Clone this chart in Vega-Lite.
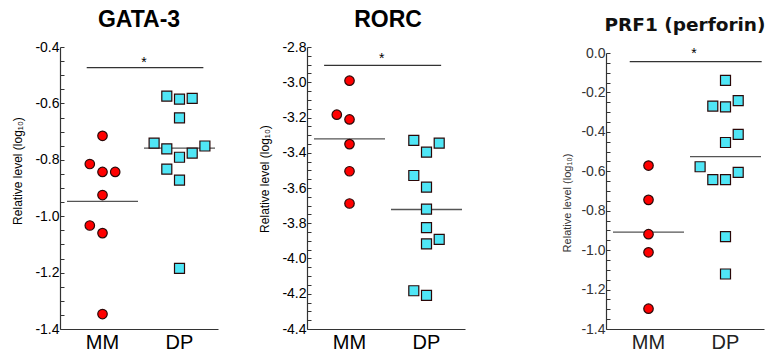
{
  "$schema": "https://vega.github.io/schema/vega-lite/v6.json",
  "background": "white",
  "padding": {"left": 11, "top": 9, "right": 5, "bottom": 5},
  "bounds": "flush",
  "spacing": 89,
  "config": {
    "view": {"stroke": null},
    "font": "Liberation Sans",
    "axisY": {
      "grid": false, "tickSize": -4, "tickColor": "#333", "tickWidth": 1, "domainColor": "#333", "domainWidth": 1.2, "tickCount": 100,
      "labelFontSize": 14, "labelColor": "#000", "labelPadding": 5, "labelFont": "Liberation Sans", "labelOverlap": false, "labelBound": false,
      "titleFontSize": 12, "titleFontWeight": "normal", "titleColor": "#000", "titleFont": "Liberation Sans",
      "titleX": -39, "titleBaseline": "alphabetic"
    },
    "axisX": {
      "grid": false, "ticks": false, "domainColor": "#333", "domainWidth": 1.2, "labelAngle": 0,
      "labelFontSize": 20, "labelColor": "#000", "labelPadding": 3, "title": null, "labelFont": "Liberation Sans"
    }
  },
  "datasets": {
    "gata": [
      {"group": "MM", "col": 0, "value": -0.715},
      {"group": "MM", "col": -1, "value": -0.815},
      {"group": "MM", "col": 0, "value": -0.843},
      {"group": "MM", "col": 1, "value": -0.843},
      {"group": "MM", "col": 0, "value": -0.925},
      {"group": "MM", "col": -1, "value": -1.033},
      {"group": "MM", "col": 0, "value": -1.06},
      {"group": "MM", "col": 0, "value": -1.347},
      {"group": "DP", "col": -1, "value": -0.574},
      {"group": "DP", "col": 0, "value": -0.585},
      {"group": "DP", "col": 1, "value": -0.582},
      {"group": "DP", "col": 0, "value": -0.651},
      {"group": "DP", "col": -2, "value": -0.741},
      {"group": "DP", "col": -1, "value": -0.761},
      {"group": "DP", "col": 0, "value": -0.791},
      {"group": "DP", "col": 1, "value": -0.776},
      {"group": "DP", "col": 2, "value": -0.751},
      {"group": "DP", "col": -1, "value": -0.833},
      {"group": "DP", "col": 0, "value": -0.872},
      {"group": "DP", "col": 0, "value": -1.185}
    ],
    "rorc": [
      {"group": "MM", "col": 0, "value": -2.991},
      {"group": "MM", "col": -1, "value": -3.184},
      {"group": "MM", "col": 0, "value": -3.211},
      {"group": "MM", "col": 0, "value": -3.351},
      {"group": "MM", "col": 0, "value": -3.505},
      {"group": "MM", "col": 0, "value": -3.688},
      {"group": "DP", "col": -1, "value": -3.33},
      {"group": "DP", "col": 1, "value": -3.345},
      {"group": "DP", "col": 0, "value": -3.397},
      {"group": "DP", "col": -1, "value": -3.529},
      {"group": "DP", "col": 0, "value": -3.595},
      {"group": "DP", "col": 0, "value": -3.72},
      {"group": "DP", "col": 0, "value": -3.825},
      {"group": "DP", "col": 1, "value": -3.891},
      {"group": "DP", "col": 0, "value": -3.917},
      {"group": "DP", "col": -1, "value": -4.183},
      {"group": "DP", "col": 0, "value": -4.209}
    ],
    "prf": [
      {"group": "MM", "col": 0, "value": -0.571},
      {"group": "MM", "col": 0, "value": -0.745},
      {"group": "MM", "col": 0, "value": -0.919},
      {"group": "MM", "col": 0, "value": -1.011},
      {"group": "MM", "col": 0, "value": -1.297},
      {"group": "DP", "col": 0, "value": -0.139},
      {"group": "DP", "col": -1, "value": -0.269},
      {"group": "DP", "col": 0, "value": -0.273},
      {"group": "DP", "col": 1, "value": -0.242},
      {"group": "DP", "col": 1, "value": -0.413},
      {"group": "DP", "col": 0, "value": -0.454},
      {"group": "DP", "col": -2, "value": -0.577},
      {"group": "DP", "col": -1, "value": -0.642},
      {"group": "DP", "col": 0, "value": -0.642},
      {"group": "DP", "col": 1, "value": -0.606},
      {"group": "DP", "col": 0, "value": -0.931},
      {"group": "DP", "col": 0, "value": -1.121}
    ],
    "sig": [
      {"panel": "gata", "from": "MM", "to": "DP", "level": -0.473, "label": "*"},
      {"panel": "rorc", "from": "MM", "to": "DP", "level": -2.904, "label": "*"},
      {"panel": "prf", "from": "MM", "to": "DP", "level": -0.044, "label": "*"}
    ]
  },
  "hconcat": [
    {
      "width": 158, "height": 282,
      "title": {"text": "GATA-3", "fontSize": 23, "font": "Liberation Sans", "fontWeight": "bold", "color": "#000", "baseline": "alphabetic", "offset": -10, "frame": "group"},
      "layer": [
        {
          "data": {"name": "gata"},
          "mark": {"type": "tick", "size": 71, "thickness": 1.3, "color": "#555"},
          "encoding": {
            "x": {"field": "group", "type": "nominal", "scale": {"type": "band", "domain": ["MM", "DP"], "paddingInner": 0, "paddingOuter": 0.026, "align": 1}},
            "y": {"aggregate": "mean", "field": "value", "type": "quantitative", "title": "Relative level (log₁₀)",
              "scale": {"domain": [-1.4, -0.4], "nice": false, "zero": false},
              "axis": {"titleY": 123.5, "labelOverlap": false, "tickCount": 100,
                "values": [-1.4, -1.35, -1.3, -1.25, -1.2, -1.15, -1.1, -1.05, -1.0, -0.95, -0.9, -0.85, -0.8, -0.75, -0.7, -0.65, -0.6, -0.55, -0.5, -0.45, -0.4],
                "labelExpr": "abs(datum.value*5 - round(datum.value*5)) < 0.0001 ? replace(format(datum.value, '.1f'), '\u2212', '-') : ''"}}
          }
        },
        {
          "data": {"name": "gata"},
          "mark": {"type": "point", "filled": true, "opacity": 1, "stroke": "#2a0808", "strokeWidth": 1.2},
          "encoding": {
            "x": {"field": "group", "type": "nominal"},
            "xOffset": {"field": "col", "type": "ordinal", "scale": {"type": "point", "domain": [-2, -1, 0, 1, 2], "range": [13.1, 63.9], "padding": 0}},
            "y": {"field": "value", "type": "quantitative", "title": "Relative level (log₁₀)"},
            "color": {"field": "group", "type": "nominal", "scale": {"domain": ["MM", "DP"], "range": ["#ff0000", "#50e6f6"]}, "legend": null},
            "shape": {"field": "group", "type": "nominal", "scale": {"domain": ["MM", "DP"], "range": ["circle", "square"]}, "legend": null},
            "size": {"field": "group", "type": "ordinal", "scale": {"domain": ["MM", "DP"], "range": [90, 100]}, "legend": null}
          }
        },
        {
          "data": {"name": "sig"},
          "transform": [{"filter": "datum.panel == 'gata'"}],
          "mark": {"type": "rule", "color": "#333", "strokeWidth": 1.2},
          "encoding": {
            "x": {"field": "from", "type": "nominal", "bandPosition": 0.295},
            "x2": {"field": "to", "bandPosition": 0.81},
            "y": {"field": "level", "type": "quantitative", "title": "Relative level (log₁₀)"}
          }
        },
        {
          "data": {"name": "sig"},
          "transform": [{"filter": "datum.panel == 'gata'"}],
          "mark": {"type": "text", "fontSize": 14, "baseline": "alphabetic", "dy": -1, "color": "#000"},
          "encoding": {
            "x": {"field": "to", "type": "nominal", "bandPosition": 0.04},
            "y": {"field": "level", "type": "quantitative", "title": "Relative level (log₁₀)"},
            "text": {"field": "label"}
          }
        }
      ]
    },
    {
      "width": 210, "height": 282,
      "title": {"text": "RORC", "fontSize": 23, "font": "Liberation Sans", "fontWeight": "bold", "color": "#000", "baseline": "alphabetic", "offset": -10, "frame": "group", "dx": -24},
      "layer": [
        {
          "data": {"name": "rorc"},
          "mark": {"type": "tick", "size": 71, "thickness": 1.3, "color": "#555"},
          "encoding": {
            "x": {"field": "group", "type": "nominal", "scale": {"type": "band", "domain": ["MM", "DP"], "range": [0, 158], "paddingInner": 0, "paddingOuter": 0.026, "align": 1}},
            "y": {"aggregate": "mean", "field": "value", "type": "quantitative", "title": "Relative level (log₁₀)",
              "scale": {"domain": [-4.4, -2.8], "nice": false, "zero": false},
              "axis": {"titleY": 131.5, "labelOverlap": false, "tickCount": 100,
                "values": [-4.4, -4.35, -4.3, -4.25, -4.2, -4.15, -4.1, -4.05, -4.0, -3.95, -3.9, -3.85, -3.8, -3.75, -3.7, -3.65, -3.6, -3.55, -3.5, -3.45, -3.4, -3.35, -3.3, -3.25, -3.2, -3.15, -3.1, -3.05, -3.0, -2.95, -2.9, -2.85, -2.8],
                "labelExpr": "abs(datum.value*5 - round(datum.value*5)) < 0.0001 ? replace(format(datum.value, '.1f'), '\u2212', '-') : ''"}}
          }
        },
        {
          "data": {"name": "rorc"},
          "mark": {"type": "point", "filled": true, "opacity": 1, "stroke": "#2a0808", "strokeWidth": 1.2},
          "encoding": {
            "x": {"field": "group", "type": "nominal"},
            "xOffset": {"field": "col", "type": "ordinal", "scale": {"type": "point", "domain": [-2, -1, 0, 1, 2], "range": [13.1, 63.9], "padding": 0}},
            "y": {"field": "value", "type": "quantitative", "title": "Relative level (log₁₀)"},
            "color": {"field": "group", "type": "nominal", "scale": {"domain": ["MM", "DP"], "range": ["#ff0000", "#50e6f6"]}, "legend": null},
            "shape": {"field": "group", "type": "nominal", "scale": {"domain": ["MM", "DP"], "range": ["circle", "square"]}, "legend": null},
            "size": {"field": "group", "type": "ordinal", "scale": {"domain": ["MM", "DP"], "range": [90, 100]}, "legend": null}
          }
        },
        {
          "data": {"name": "sig"},
          "transform": [{"filter": "datum.panel == 'rorc'"}],
          "mark": {"type": "rule", "color": "#333", "strokeWidth": 1.2},
          "encoding": {
            "x": {"field": "from", "type": "nominal", "bandPosition": 0.17},
            "x2": {"field": "to", "bandPosition": 0.69},
            "y": {"field": "level", "type": "quantitative", "title": "Relative level (log₁₀)"}
          }
        },
        {
          "data": {"name": "sig"},
          "transform": [{"filter": "datum.panel == 'rorc'"}],
          "mark": {"type": "text", "fontSize": 14, "baseline": "alphabetic", "dy": -2, "color": "#000"},
          "encoding": {
            "x": {"field": "from", "type": "nominal", "bandPosition": 0.92},
            "y": {"field": "level", "type": "quantitative", "title": "Relative level (log₁₀)"},
            "text": {"field": "label"}
          }
        }
      ]
    },
    {
      "width": 158, "height": 282,
      "title": {"text": "PRF1 (perforin)", "fontSize": 18.5, "font": "DejaVu Sans", "fontWeight": "bold", "color": "#111", "baseline": "alphabetic", "offset": -3, "frame": "group"},
      "layer": [
        {
          "data": {"name": "prf"},
          "mark": {"type": "tick", "size": 71, "thickness": 1.3, "color": "#555"},
          "encoding": {
            "x": {"field": "group", "type": "nominal", "scale": {"type": "band", "domain": ["MM", "DP"], "paddingInner": 0, "paddingOuter": 0.026, "align": 1}, "axis": {"labelColor": "#222"}},
            "y": {"aggregate": "mean", "field": "value", "type": "quantitative", "title": "Relative level (log₁₀)",
              "scale": {"domain": [-1.4, 0], "nice": false, "zero": false, "range": [282, 6]},
              "axis": {"titleY": 155.5, "titleX": -36, "labelColor": "#333", "titleColor": "#333", "titleFontSize": 11, "labelOverlap": false, "tickCount": 100,
                "values": [-1.4, -1.35, -1.3, -1.25, -1.2, -1.15, -1.1, -1.05, -1.0, -0.95, -0.9, -0.85, -0.8, -0.75, -0.7, -0.65, -0.6, -0.55, -0.5, -0.45, -0.4, -0.35, -0.3, -0.25, -0.2, -0.15, -0.1, -0.05, 0],
                "labelExpr": "abs(datum.value*5 - round(datum.value*5)) < 0.0001 ? replace(format(datum.value, '.1f'), '\u2212', '-') : ''"}}
          }
        },
        {
          "data": {"name": "prf"},
          "mark": {"type": "point", "filled": true, "opacity": 1, "stroke": "#2a0808", "strokeWidth": 1.2},
          "encoding": {
            "x": {"field": "group", "type": "nominal"},
            "xOffset": {"field": "col", "type": "ordinal", "scale": {"type": "point", "domain": [-2, -1, 0, 1, 2], "range": [13.1, 63.9], "padding": 0}},
            "y": {"field": "value", "type": "quantitative", "title": "Relative level (log₁₀)"},
            "color": {"field": "group", "type": "nominal", "scale": {"domain": ["MM", "DP"], "range": ["#ff0000", "#50e6f6"]}, "legend": null},
            "shape": {"field": "group", "type": "nominal", "scale": {"domain": ["MM", "DP"], "range": ["circle", "square"]}, "legend": null},
            "size": {"field": "group", "type": "ordinal", "scale": {"domain": ["MM", "DP"], "range": [90, 100]}, "legend": null}
          }
        },
        {
          "data": {"name": "sig"},
          "transform": [{"filter": "datum.panel == 'prf'"}],
          "mark": {"type": "rule", "color": "#333", "strokeWidth": 1.2},
          "encoding": {
            "x": {"field": "from", "type": "nominal", "bandPosition": 0.256},
            "x2": {"field": "to", "bandPosition": 0.97},
            "y": {"field": "level", "type": "quantitative", "title": "Relative level (log₁₀)"}
          }
        },
        {
          "data": {"name": "sig"},
          "transform": [{"filter": "datum.panel == 'prf'"}],
          "mark": {"type": "text", "fontSize": 14, "baseline": "alphabetic", "dy": -4, "color": "#000"},
          "encoding": {
            "x": {"field": "to", "type": "nominal", "bandPosition": 0.09},
            "y": {"field": "level", "type": "quantitative", "title": "Relative level (log₁₀)"},
            "text": {"field": "label"}
          }
        }
      ]
    }
  ]
}
